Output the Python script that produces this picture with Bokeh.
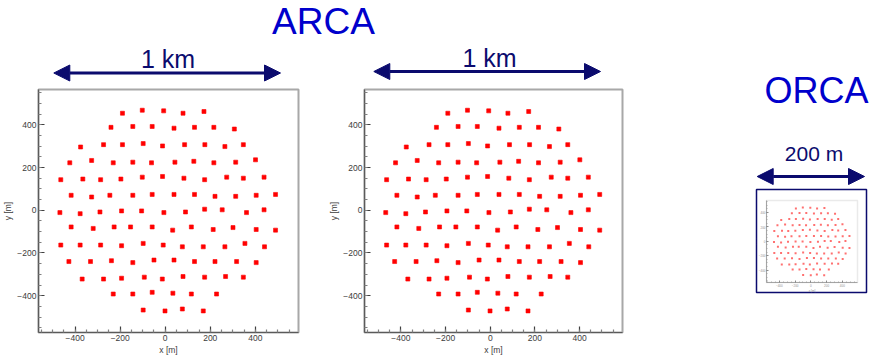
from bokeh.plotting import figure
from bokeh.models import (Range1d, Label, Arrow, NormalHead, BoxAnnotation, Spacer,
                          SingleIntervalTicker, ColumnDataSource)
from bokeh.layouts import row, column
from bokeh.embed import file_html
from bokeh.resources import INLINE

# ---------------- data (detection-unit footprint, metres) ----------------
du_x = [-190, -102, -7, 79, 172,
        -241, -144, -58, 39, 130, 216, 307,
        -376, -274, -190, -98, -12, 86, 176, 265, 347,
        -424, -327, -231, -144, -61, 43, 127, 216, 313, 401,
        -464, -366, -287, -197, -102, -12, 83, 175, 273, 347, 439,
        -418, -327, -246, -144, -58, 39, 130, 221, 313, 404, 490,
        -468, -378, -290, -194, -105, -6, 90, 175, 253, 361, 439,
        -418, -320, -227, -154, -58, 33, 116, 213, 301, 404, 490,
        -464, -378, -287, -194, -98, -9, 76, 169, 265, 354, 441,
        -428, -332, -239, -144, -50, 39, 130, 221, 317, 404,
        -369, -274, -194, -93, -13, 79, 175, 268, 347,
        -231, -144, -58, 34, 116, 228,
        -98, -1, 76, 169]
du_y = [454, 468, 465, 454, 462,
        388, 392, 392, 384, 388, 388, 380,
        296, 307, 307, 312, 301, 307, 307, 298, 307,
        222, 233, 222, 225, 222, 225, 229, 222, 225, 236,
        143, 146, 143, 146, 155, 158, 150, 143, 155, 150, 155,
        70, 62, 70, 70, 74, 74, 74, 65, 65, 70, 74,
        -11, -16, -8, -3, -3, -11, -8, 5, 2, -11, 2,
        -78, -85, -78, -78, -78, -93, -78, -90, -81, -90, -93,
        -163, -163, -163, -166, -155, -163, -171, -171, -171, -155, -171,
        -240, -240, -236, -245, -233, -233, -240, -240, -240, -245,
        -322, -322, -318, -313, -322, -310, -313, -310, -313,
        -392, -392, -384, -388, -392, -392,
        -467, -471, -462, -471]

title_text = "ARCA"
scale_text = "1 km"
orca_text = "ORCA"
orca_scale_text = "200 m"
x_label = "x [m]"
y_label = "y [m]"

X_RANGE = (-563, 592)
Y_RANGE = (-572, 565)

NAVY = "#0b0b6e"
BLUE = "#0000cc"
FONT = "Liberation Sans"


def bare_fig(w, h, x0, x1, y_bottom, y_top):
    p = figure(width=w, height=h, x_range=Range1d(x0, x1), y_range=Range1d(y_bottom, y_top),
               output_backend="svg", toolbar_location=None,
               x_axis_type=None, y_axis_type=None,
               min_border_left=0, min_border_right=0, min_border_top=0, min_border_bottom=0)
    p.grid.visible = False
    p.outline_line_color = None
    p.background_fill_color = "white"
    p.border_fill_color = "white"
    return p


def add_arrow(p, xa, xb, y, size=16, width=3):
    p.add_layout(Arrow(x_start=xa, y_start=y, x_end=xb, y_end=y,
                       start=NormalHead(size=size, fill_color=NAVY, line_color=NAVY),
                       end=NormalHead(size=size, fill_color=NAVY, line_color=NAVY),
                       line_color=NAVY, line_width=width))


def add_text(p, x, y, text, size, color):
    p.add_layout(Label(x=x, y=y, text=text, text_align="center", text_baseline="middle",
                       text_font=FONT, text_font_size=size, text_color=color))


def style_axes(p, font_px, tick_in, minor_in, lw):
    for ax in (p.xaxis[0], p.yaxis[0]):
        ax.ticker = SingleIntervalTicker(interval=200, num_minor_ticks=4)
        ax.major_tick_in = tick_in
        ax.major_tick_out = 0
        ax.minor_tick_in = minor_in
        ax.minor_tick_out = 0
        ax.axis_line_color = "#5a5a5a"
        ax.axis_line_width = lw
        ax.major_tick_line_color = "#404040"
        ax.major_tick_line_width = lw
        ax.minor_tick_line_color = "#808080"
        ax.minor_tick_line_width = lw
        ax.major_label_text_font = FONT
        ax.major_label_text_font_size = font_px
        ax.major_label_text_color = "#3c3c3c"
        ax.major_label_standoff = 2
        ax.axis_label_text_font = FONT
        ax.axis_label_text_font_size = font_px
        ax.axis_label_text_font_style = "normal"
        ax.axis_label_text_color = "#3c3c3c"
        ax.axis_label_standoff = 1


def main_plot(width, left, right):
    p = figure(width=width, height=275, x_range=Range1d(*X_RANGE), y_range=Range1d(*Y_RANGE),
               output_backend="svg", toolbar_location=None,
               min_border_left=left, min_border_right=right, min_border_top=3, min_border_bottom=29,
               x_axis_label=x_label, y_axis_label=y_label)
    p.grid.visible = False
    p.outline_line_color = "#a8a8a8"
    p.outline_line_width = 2
    p.background_fill_color = "white"
    p.border_fill_color = "white"
    style_axes(p, "8.5px", 6, 3, 1.2)
    src = ColumnDataSource(dict(x=du_x, y=du_y))
    p.scatter("x", "y", source=src, marker="square", size=4,
              fill_color="#ff0000", line_color="#ff0000", line_width=0.6)
    return p


# ---------------- header (ARCA title + 1 km scale arrows) ----------------
header = bare_fig(656, 86, 0, 656, 86, 0)
add_text(header, 323, 20.5, title_text, "37px", BLUE)
add_text(header, 167.5, 58.3, scale_text, "25px", NAVY)
add_arrow(header, 53.3, 280, 72.5)
add_text(header, 489, 57.5, scale_text, "25px", NAVY)
add_arrow(header, 373.3, 600, 71)

f1 = main_plot(326, 38, 28)
f2 = main_plot(330, 36, 34)

# ---------------- ORCA column ----------------
orca = bare_fig(219, 186, 656, 875, 186, 0)
add_text(orca, 816, 90.4, orca_text, "36px", BLUE)
add_text(orca, 813.5, 153.3, orca_scale_text, "21px", NAVY)
add_arrow(orca, 756.7, 864, 176, size=16, width=3)

# inset: its frame is the navy box; the small ROOT plot sits inside it
box_l, box_r, box_t, box_b = 756, 866, 189, 292        # navy box (px)
in_l, in_r, in_t, in_b = 766, 857, 200, 282            # inner plot frame (px)
mx = (X_RANGE[1] - X_RANGE[0]) / (in_r - in_l)
my = (Y_RANGE[1] - Y_RANGE[0]) / (in_b - in_t)
ix = (X_RANGE[0] - (in_l - box_l) * mx, X_RANGE[1] + (box_r - in_r) * mx)
iy = (Y_RANGE[0] - (box_b - in_b) * my, Y_RANGE[1] + (in_t - box_t) * my)

inset_left, inset_top = 20, 3
inset = figure(width=inset_left + (box_r - box_l) + (875 - box_r),
               height=inset_top + (box_b - box_t) + (361 - box_b),
               x_range=Range1d(*ix), y_range=Range1d(*iy),
               output_backend="svg", toolbar_location=None,
               min_border_left=inset_left, min_border_right=875 - box_r,
               min_border_top=inset_top, min_border_bottom=361 - box_b,
               x_axis_label=x_label, y_axis_label=y_label)
inset.grid.visible = False
inset.outline_line_color = NAVY
inset.outline_line_width = 1.5
inset.background_fill_color = "white"
inset.border_fill_color = "white"
style_axes(inset, "3px", 2, 1, 0.6)
inset.xaxis[0].fixed_location = Y_RANGE[0]
inset.yaxis[0].fixed_location = X_RANGE[0]
inset.xaxis[0].bounds = X_RANGE
inset.yaxis[0].bounds = Y_RANGE
for ax in (inset.xaxis[0], inset.yaxis[0]):
    ax.major_label_standoff = 1
    ax.axis_label_standoff = 0
    ax.major_label_text_color = "#909090"
    ax.axis_label_text_color = "#909090"
inset.add_layout(BoxAnnotation(left=X_RANGE[0], right=X_RANGE[1], bottom=Y_RANGE[0], top=Y_RANGE[1],
                               fill_alpha=0, line_color="#b8b8b8", line_width=1.5))
inset.scatter(du_x, du_y, marker="square", size=2, fill_color="#ff7070",
              line_color="#ff7070", line_width=0)

left = column(header, row(f1, f2, spacing=0), spacing=0)
right = column(orca, row(Spacer(width=box_l - inset_left - 656, height=361 - 186), inset, spacing=0),
               spacing=0)
layout = row(left, right, spacing=0)

open("out.html", "w").write(file_html(layout, INLINE))
